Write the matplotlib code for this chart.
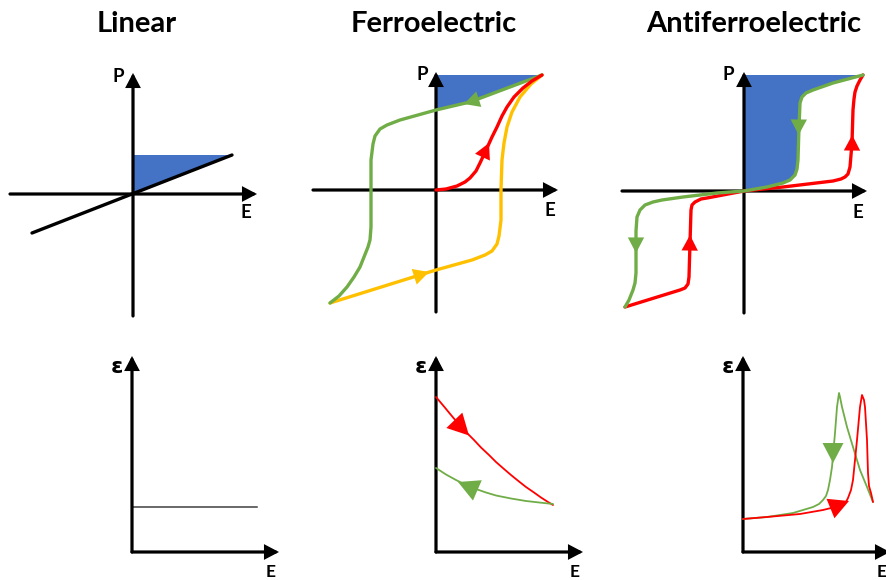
import matplotlib
matplotlib.use("Agg")
import matplotlib.pyplot as plt
from matplotlib.patches import Polygon

W, H = 886, 580
DPI = 100

GREEN = "#70AD47"
RED = "#FF0000"
YELLOW = "#FFC000"
BLUE = "#4472C4"

TITLES = ["Linear", "Ferroelectric", "Antiferroelectric"]
TITLE_X = [137, 434, 754]

# ---- P-E loops (field E, polarization P, arbitrary units) ----
LIN_E = [-101, 99]
LIN_P = [-39, 39]

FE_GREEN_E = [106, 34, 0, -36, -49, -56, -61, -63, -64, -65, -65, -65, -66, -68, -72, -76, -82, -89, -97, -106]
FE_GREEN_P = [115, 88, 80, 70, 65, 61, 54, 46, 38, 30, 0, -37, -50, -57, -67, -77, -87, -97, -106, -113]
FE_YELLOW_E = [-106, -13, 0, 36, 49, 56, 61, 63, 64, 65, 65, 66, 68, 71, 76, 84, 95, 106]
FE_YELLOW_P = [-113, -84, -80, -70, -65, -61, -54, -46, -38, -30, 0, 30, 47, 63, 78, 93, 106, 115]
FE_RED_E = [0, 10, 21, 29, 34, 40, 44, 51, 56, 61, 66, 71, 78, 87, 96, 106]
FE_RED_P = [0, 1, 4, 8, 12, 19, 27, 42, 53, 63, 74, 83, 93, 102, 109, 115]
FE_PMAX = 115

AFE_GREEN_E = [119, 104, 89, 69, 62, 58, 56, 55, 54, 53, 51, 46, 39, 23, 0,
               -27, -61, -82, -91, -99, -104, -107, -108, -108, -108, -109, -111, -115, -119]
AFE_GREEN_P = [116, 112, 108, 101, 98, 94, 88, 64, 31, 22, 16, 11, 8, 4, 0,
               -2, -6, -9, -11, -14, -19, -26, -40, -56, -82, -92, -99, -109, -116]
AFE_RED_E = [-119, -64, -59, -56, -55, -54, -53, -52, -49, -43, -37, 0, 39, 89, 97, 101,
             104, 106, 108, 109, 110, 111, 113, 116, 119]
AFE_RED_P = [-116, -99, -97, -93, -86, -52, -19, -14, -11, -8, -7, 0, 4, 10, 12, 14,
             17, 24, 48, 81, 92, 99, 105, 111, 116]
AFE_PMAX = 116

# ---- permittivity vs field ----
EPS_LIN_E = [0, 125]
EPS_LIN = [45, 45]

EPS_FE_RED_E = [0, 8, 15, 23, 30, 38, 45, 53, 60, 68, 75, 83, 90, 98, 105, 112, 117]
EPS_FE_RED = [155, 145.5, 137, 127.5, 120, 112, 104.5, 97, 90, 83, 77, 70.5, 65, 59.5, 54.5, 50, 47]
EPS_FE_GREEN_E = [117, 105, 90, 75, 60, 50, 40, 30, 20, 10, 0]
EPS_FE_GREEN = [48, 49.3, 51, 53.5, 56.5, 59.5, 63, 67, 72, 77.5, 84]

EPS_AFE_GREEN_E = [0, 24, 50, 70, 76, 80, 83, 85, 87, 89, 92, 94, 96, 97, 99, 104, 110, 117, 124, 130]
EPS_AFE_GREEN = [33, 35, 39, 45, 48, 52, 56, 62, 72, 85, 119, 145, 159, 155, 145, 125, 105, 82, 65, 50]
EPS_AFE_RED_E = [0, 24, 57, 80, 92, 99, 103, 105, 108, 110, 112, 114, 117, 119, 121, 122, 124, 125, 126, 128, 130]
EPS_AFE_RED = [33, 35, 38, 42, 45, 47, 50, 54, 62, 72, 92, 112, 145, 157, 152, 145, 112, 79, 66, 59, 50]

fig = plt.figure(figsize=(W / DPI, H / DPI), dpi=DPI)
fig.patch.set_facecolor("white")

LABEL_FONT = ["Lato", "DejaVu Sans"]


def panel(ox, oy, ext=135):
    """Axes whose data units are pixels measured from the origin (ox, oy)."""
    ax = fig.add_axes([(ox - ext) / W, (H - (oy + ext)) / H, 2 * ext / W, 2 * ext / H])
    ax.set_xlim(-ext, ext)
    ax.set_ylim(-ext, ext)
    ax.axis("off")
    ax.patch.set_visible(False)
    return ax


def axis_arrow(ax, x0, y0, x1, y1):
    ax.annotate("", xy=(x1, y1), xytext=(x0, y0), annotation_clip=False,
                arrowprops=dict(arrowstyle="-|>,head_length=0.8,head_width=0.42",
                                mutation_scale=9, lw=2.3, color="black",
                                shrinkA=0, shrinkB=0, joinstyle="miter"))


def head(ax, x0, y0, x1, y1, color, scale=14):
    ax.annotate("", xy=(x1, y1), xytext=(x0, y0), annotation_clip=False,
                arrowprops=dict(arrowstyle="-|>,head_length=0.8,head_width=0.42",
                                mutation_scale=scale, lw=0, color=color,
                                shrinkA=0, shrinkB=0))


def curve(ax, xs, ys, color, lw=2.4):
    ax.plot(xs, ys, color=color, lw=lw, solid_capstyle="round",
            solid_joinstyle="round", clip_on=False, zorder=3)


def pe_axes(ax, left, right, down, up):
    axis_arrow(ax, -left, 0, right, 0)
    axis_arrow(ax, 0, -down, 0, up)


def label(ax, x, y, s, size=13.5, ha="center", va="center", family=LABEL_FONT):
    ax.text(x, y, s, fontsize=size, fontweight="bold", ha=ha, va=va,
            family=family, clip_on=False)


# titles
for t, x in zip(TITLES, TITLE_X):
    fig.text(x / W, 1 - 24 / H, t, fontsize=21, fontweight="bold",
             family=LABEL_FONT, ha="center", va="center")

# ---------- Linear P-E ----------
ax = panel(133, 194)
ax.add_patch(Polygon([(0, 0), (LIN_E[1], LIN_P[1]), (0, LIN_P[1])],
                     closed=True, facecolor=BLUE, edgecolor="none", zorder=1))
pe_axes(ax, 123, 124, 122, 121)
curve(ax, LIN_E, LIN_P, "black", lw=2.4)
label(ax, -15, 118, "P")
label(ax, 113, -19, "E")

# ---------- Ferroelectric P-E ----------
ax = panel(436, 190)
i0 = FE_GREEN_E.index(0)
fill_pts = [(0, FE_PMAX)] + list(zip(FE_GREEN_E[:i0 + 1], FE_GREEN_P[:i0 + 1]))
ax.add_patch(Polygon(fill_pts, closed=True, facecolor=BLUE, edgecolor="none", zorder=1))
pe_axes(ax, 123, 122, 122, 118)
curve(ax, FE_YELLOW_E, FE_YELLOW_P, YELLOW)
curve(ax, FE_GREEN_E, FE_GREEN_P, GREEN)
curve(ax, FE_RED_E, FE_RED_P, RED)
head(ax, 42, 90.6, 28, 86, GREEN)
head(ax, 47, 34, 53, 47, RED)
head(ax, -21, -86.5, -7, -82, YELLOW)
label(ax, -14, 116, "P")
label(ax, 114, -21, "E")

# ---------- Antiferroelectric P-E ----------
ax = panel(744, 191)
i0 = AFE_GREEN_E.index(0)
fill_pts = [(0, AFE_PMAX)] + list(zip(AFE_GREEN_E[:i0 + 1], AFE_GREEN_P[:i0 + 1]))
ax.add_patch(Polygon(fill_pts, closed=True, facecolor=BLUE, edgecolor="none", zorder=1))
pe_axes(ax, 122, 123, 122, 119)
curve(ax, AFE_RED_E, AFE_RED_P, RED)
curve(ax, AFE_GREEN_E, AFE_GREEN_P, GREEN)
head(ax, 54.8, 72, 54.6, 56, GREEN)
head(ax, 108, 40, 108.2, 56, RED)
head(ax, -108, -46, -108, -62, GREEN)
head(ax, -54.3, -60, -54, -44, RED)
label(ax, -16, 117, "P")
label(ax, 114, -21, "E")

# ---------- permittivity panels ----------
for ox in (132, 436, 743):
    ax = panel(ox, 552, ext=200)
    axis_arrow(ax, 0, 0, 147, 0)
    axis_arrow(ax, 0, 0, 0, 196)
    ax.text(-15, 185, "ε", fontsize=16, fontweight="bold", ha="center", va="center",
            family=["DejaVu Sans"], clip_on=False)
    label(ax, 139, -12, "E", size=12.5, va="top")
    if ox == 132:
        ax.plot(EPS_LIN_E, EPS_LIN, color="#404040", lw=1.1, clip_on=False)
    elif ox == 436:
        curve(ax, EPS_FE_RED_E, EPS_FE_RED, RED, lw=1.3)
        curve(ax, EPS_FE_GREEN_E, EPS_FE_GREEN, GREEN, lw=1.3)
        head(ax, 20, 130, 33, 116.5, RED, scale=19)
        head(ax, 37, 63.5, 22, 70, GREEN, scale=19)
    else:
        curve(ax, EPS_AFE_GREEN_E, EPS_AFE_GREEN, GREEN, lw=1.3)
        curve(ax, EPS_AFE_RED_E, EPS_AFE_RED, RED, lw=1.3)
        head(ax, 90, 109, 90, 89, GREEN, scale=18)
        head(ax, 90, 44.5, 106, 51, RED, scale=18)

fig.savefig("out.png", dpi=DPI, facecolor="white")
